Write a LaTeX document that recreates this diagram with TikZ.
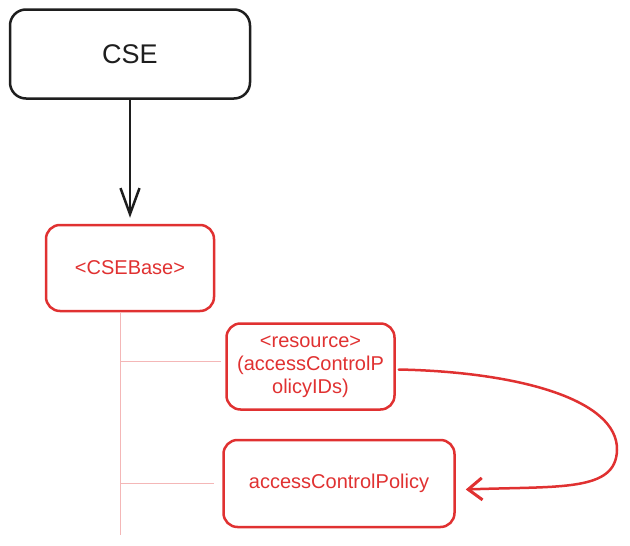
\documentclass[tikz,border=0pt]{standalone}
\usepackage{fontspec}
\setmainfont{Liberation Sans}
\usepackage{xcolor}
\definecolor{sketchred}{RGB}{224,49,49}
\definecolor{sketchgray}{RGB}{30,30,30}
\usepackage{tikz}
\usetikzlibrary{arrows.meta, positioning, calc}

\begin{document}
\begin{tikzpicture}[x=1pt, y=1pt,
    topbox/.style={rectangle, rounded corners=16pt, draw=sketchgray, line width=2.5pt,
      minimum width=240pt, minimum height=89pt, inner sep=0pt,
      text=sketchgray, font=\fontsize{27}{32}\selectfont},
    resbox/.style={rectangle, rounded corners=14pt, draw=sketchred, line width=2.5pt,
      minimum width=168pt, minimum height=86pt, inner sep=0pt, align=center,
      text=sketchred, font=\fontsize{20}{23}\selectfont},
    tree/.style={sketchred!35, line width=1pt},
    arrow/.style={line width=2.5pt, line cap=round, line join=round}
]
\useasboundingbox (0,0) rectangle (630,-546);

\node[topbox] (cse) at (130,-54) {CSE};
\node[resbox, below=124pt of cse] (cbase) {<CSEBase>};
\node[resbox, below right=10pt and 10pt of cbase] (res)
  {<resource>\\(accessControlP\\olicyIDs)};
\node[resbox, minimum width=231pt, minimum height=87pt, anchor=north west] (acp)
  at ([shift={(-3pt,-28pt)}]res.south west) {accessControlPolicy};

% tree of the CSEBase
\coordinate (trunk) at (120,-535);
\draw[tree] (cbase.south -| trunk) -- (trunk);
\draw[tree] ([yshift=5pt]res.west -| trunk) -- ([shift={(-4pt,5pt)}]res.west);
\draw[tree] (acp.west -| trunk) -- ([xshift=-8pt]acp.west);

% arrows
\draw[arrow, sketchgray, -{Straight Barb[length=26pt, width=19pt, line width=2.5pt]}]
  (cse) -- ([yshift=6pt]cbase.north);
\draw[arrow, sketchred, -{Straight Barb[length=14pt, width=22pt, line width=3pt]}]
  ([xshift=3pt,yshift=-3pt]res.east) .. controls (520,-372) and (618,-400) .. (617,-450)
  .. controls (616,-492) and (560,-486) .. ([xshift=10pt,yshift=-6pt]acp.east);
\end{tikzpicture}
\end{document}
